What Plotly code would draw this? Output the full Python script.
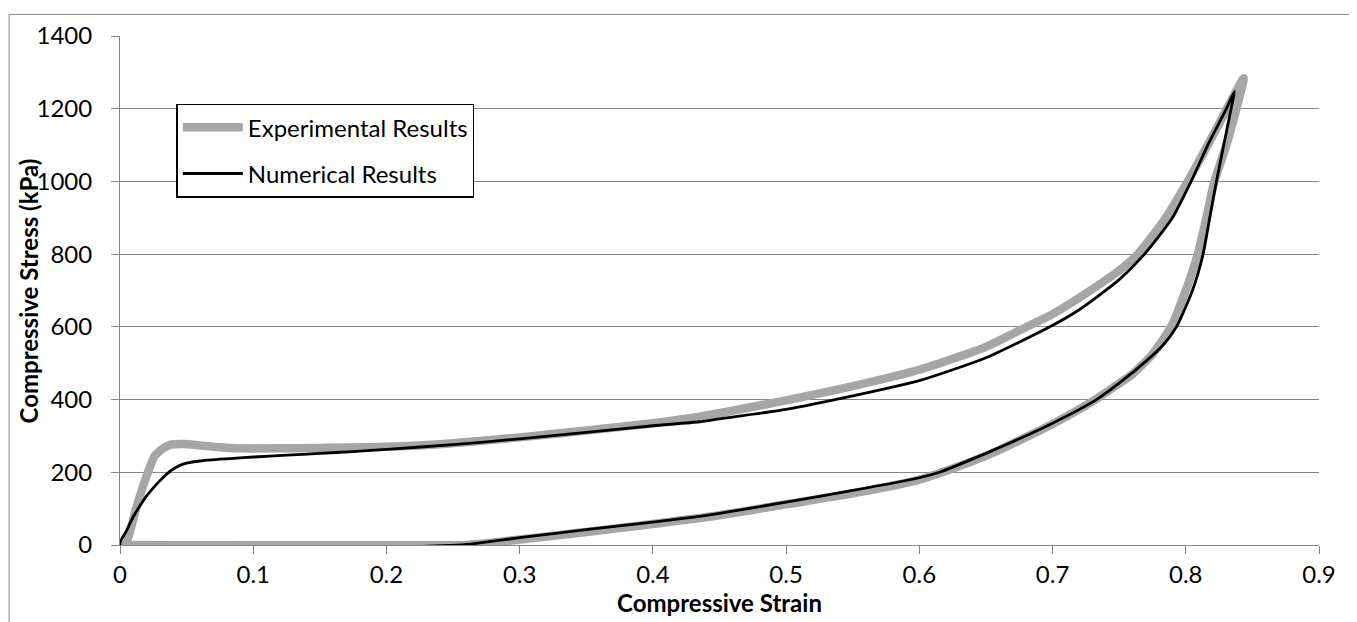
import plotly.graph_objects as go

# ---------------- data ----------------
exp_strain = [0.0, 0.004, 0.012, 0.02, 0.026, 0.032, 0.038, 0.048, 0.06, 0.075, 0.09, 0.12, 0.15,
              0.2, 0.25, 0.3, 0.35, 0.4, 0.435, 0.5, 0.55, 0.6, 0.65, 0.675, 0.7, 0.72, 0.75,
              0.764, 0.785, 0.8015, 0.8165, 0.831, 0.8435,
              0.838, 0.8305, 0.8215, 0.8155, 0.809, 0.8, 0.789, 0.775, 0.76, 0.745, 0.73, 0.7,
              0.65, 0.6, 0.55, 0.5, 0.45, 0.4, 0.35, 0.3, 0.27, 0.26, 0.0]
exp_stress = [0, 0, 100, 190, 245, 265, 276, 278, 274, 269, 266, 266, 267,
              270, 280, 296, 315, 335, 353, 398, 437, 482, 545, 590, 635, 680, 755,
              800, 900, 1000, 1100, 1200, 1284,
              1200, 1100, 1000, 900, 800, 700, 600, 525, 470, 432, 395, 333,
              245, 180, 142, 112, 82, 58, 36, 15, 3, 0, 0]

num_strain = [0.0, 0.005, 0.01, 0.015, 0.02, 0.025, 0.03, 0.035, 0.04, 0.045, 0.05, 0.06, 0.08,
              0.1, 0.125, 0.15, 0.175, 0.2, 0.25, 0.3, 0.35, 0.4, 0.435, 0.45, 0.5, 0.55,
              0.6, 0.65, 0.698, 0.72, 0.75, 0.769, 0.79, 0.804, 0.8165, 0.8305, 0.8366,
              0.834, 0.8285, 0.823, 0.818, 0.813, 0.805, 0.793, 0.783, 0.77, 0.75, 0.733,
              0.7, 0.675, 0.65, 0.615, 0.6, 0.55, 0.5, 0.45, 0.435, 0.4, 0.35, 0.3, 0.27,
              0.255, 0.0]
num_stress = [0, 40, 78, 108, 135, 157, 177, 195, 209, 219, 225, 231, 237,
              242, 247, 252, 257, 263, 276, 292, 310, 328, 339, 347, 373, 410,
              452, 515, 600, 647, 730, 800, 900, 1000, 1100, 1200, 1248,
              1200, 1100, 1000, 900, 800, 700, 600, 550, 505, 445, 400,
              335, 292, 252, 200, 185, 150, 118, 87, 79, 63, 42, 20, 6,
              0, 0]

series_names = ["Experimental Results", "Numerical Results"]
x_ticks = [0, 0.1, 0.2, 0.3, 0.4, 0.5, 0.6, 0.7, 0.8, 0.9]
y_ticks = [0, 200, 400, 600, 800, 1000, 1200, 1400]
x_title = "Compressive Strain"
y_title = "Compressive Stress (kPa)"

FONT = "Lato"
GRID = "#868686"
FS = 24

fig = go.Figure()
fig.add_trace(go.Scatter(x=exp_strain, y=exp_stress, mode="lines", name=series_names[0],
                         line=dict(color="#A6A6A6", width=8.5, shape="spline", smoothing=0.6),
                         cliponaxis=False, legendgroup="a"))
fig.add_trace(go.Scatter(x=num_strain, y=num_stress, mode="lines", name=series_names[1],
                         line=dict(color="#000000", width=2.8, shape="spline", smoothing=0.6),
                         cliponaxis=False, legendgroup="b"))

fig.update_layout(
    width=1349, height=614,
    margin=dict(l=112, r=38, t=22, b=77),
    paper_bgcolor="white", plot_bgcolor="white",
    font=dict(family=FONT, size=FS, color="black"),
    showlegend=True,
    legend=dict(x=0.047, y=0.867, xanchor="left", yanchor="top",
                bgcolor="white", bordercolor="black", borderwidth=1.5,
                font=dict(family=FONT, size=FS, color="black"),
                tracegroupgap=12, itemwidth=60, traceorder="grouped"),
    xaxis=dict(range=[0, 0.9], tickvals=x_ticks, ticktext=[f"{v:g}" for v in x_ticks],
               showgrid=False, zeroline=False, showline=True, linecolor=GRID, linewidth=1,
               ticks="outside", ticklen=8, tickcolor=GRID, tickwidth=1,
               tickfont=dict(family=FONT, size=FS, color="black"),
               title=dict(text="<b>" + x_title + "</b>", font=dict(family=FONT, size=FS),
                          standoff=3)),
    yaxis=dict(range=[0, 1400], tickvals=y_ticks,
               showgrid=True, gridcolor=GRID, gridwidth=1,
               zeroline=False, showline=True, linecolor=GRID, linewidth=1,
               ticks="outside", ticklen=8, tickcolor=GRID, tickwidth=1,
               ticklabelstandoff=14,
               tickfont=dict(family=FONT, size=FS, color="black")),
)

# y-axis title placed next to the tick labels, as in the reference
fig.add_annotation(text="<b>" + y_title + "</b>", xref="paper", yref="paper",
                   x=-0.0759, y=0.5, xanchor="center", yanchor="middle",
                   textangle=-90, showarrow=False, font=dict(family=FONT, size=FS))

# outer chart border
fig.add_shape(type="rect", xref="paper", yref="paper",
              x0=-0.0925, x1=1.0275, y0=-0.2, y1=1.0425,
              line=dict(color=GRID, width=1), fillcolor="rgba(0,0,0,0)", layer="below")

fig.write_html("out.html")
